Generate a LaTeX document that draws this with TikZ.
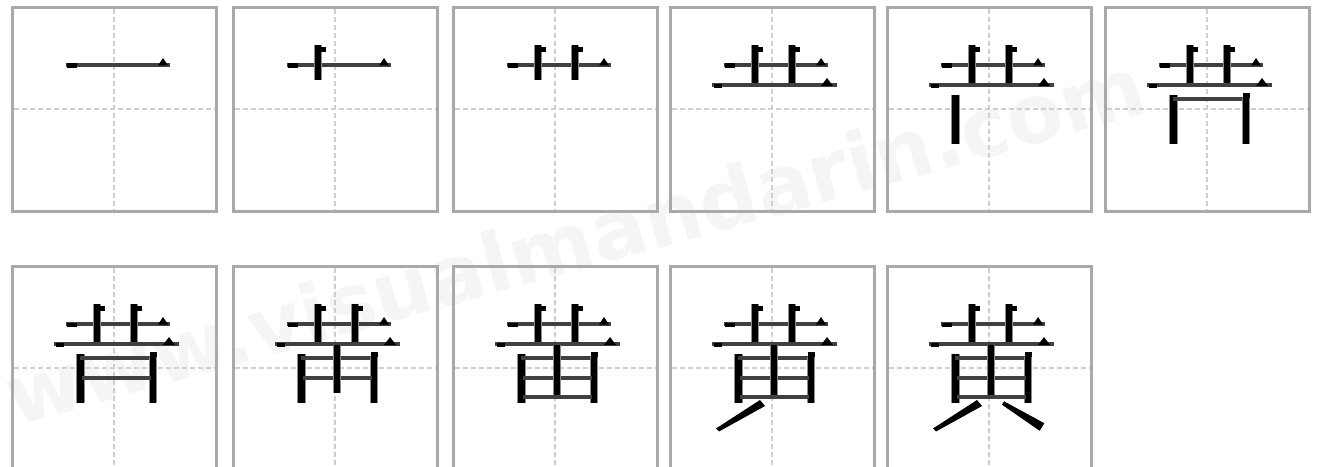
\documentclass[tikz,border=0pt]{standalone}
\usepackage{fontspec}
\newfontfamily\wmfont{DejaVu Sans}
\definecolor{framegray}{HTML}{A9A9A9}
\definecolor{guidegray}{HTML}{CFCFCF}
\definecolor{wmgray}{HTML}{F5F5F5}
\definecolor{hzink}{HTML}{404040}
\tikzset{
  boxframe/.style={draw=framegray, line width=2.3pt},
  guide/.style={draw=guidegray, line width=1.5pt, dash pattern=on 3.75pt off 2.25pt},
  hzstroke/.style={draw=hzink, line width=2.3pt},
  hzthick/.style={draw=hzink, line width=3pt},
  vthalo/.style={draw=black!45, line width=6.4pt},
  vtstroke/.style={draw=black, line width=4.6pt},
  ink/.style={fill=black},
}
% strokes of the character, box-relative pixel coordinates
\newcommand\strkA{\draw[hzstroke] (55,59) -- (159,59);
  \fill[ink] (147,59.5) -- (157,59.5) -- (152,52) -- cycle;
  \fill[ink] (56,57.5) rectangle (66,62);}
\newcommand\strkB[1]{\draw[vthalo] (86,39) -- (86,#1); \draw[vtstroke] (86,39) -- (86,#1);
  \fill[ink] (88,41) rectangle (94,46);}
\newcommand\strkC[1]{\draw[vthalo] (123,39) -- (123,#1); \draw[vtstroke] (123,39) -- (123,#1);
  \fill[ink] (125,41) rectangle (131,46);}
\newcommand\strkD{\draw[hzthick] (43,79) -- (168,79);
  \fill[ink] (152,80) -- (164,80) -- (158,72) -- cycle;
  \fill[ink] (45,78) rectangle (53,82);}
\newcommand\strkE{\draw[vthalo] (69.5,89) -- (69.5,138); \draw[vtstroke] (69.5,89) -- (69.5,138);}
\newcommand\strkF{\draw[hzthick] (69,93) -- (142,93);
  \draw[vthalo] (142,92) -- (142,138); \draw[vtstroke] (142,92) -- (142,138);
  \fill[ink] (139,87) rectangle (146,92);}
\newcommand\strkG{\draw[hzthick] (71,113) -- (140,113);}
\newcommand\strkH[1]{\draw[vthalo] (105,80) -- (105,#1); \draw[vtstroke] (105,80) -- (105,#1);}
\newcommand\strkI{\draw[hzthick] (71,132) -- (140,132);}
\newcommand\strkJ{\fill[ink] (91,135) -- (96,141) -- (50,166.5) -- (47,163.5) -- cycle;}
\newcommand\strkK{\fill[ink] (118,136.3) -- (158.3,158.2) -- (153.7,165.8) -- (116,139.7) -- cycle;}
% one practice box with its strokes
\newcommand\hanbox[3]{\begin{scope}[shift={(#1,#2)}]
  \draw[guide] (103,3) -- (103,204);
  \draw[guide] (3,103) -- (204,103);
  \draw[boxframe] (1.5,1.5) rectangle (205.5,205.5);
  #3
\end{scope}}
\begin{document}
\begin{tikzpicture}[x=0.75pt,y=-0.75pt]
\useasboundingbox (0,0) rectangle (1325,467);
\clip (0,0) rectangle (1325,467);
\fill[white] (0,0) rectangle (1325,467);
\node[text=wmgray, font=\wmfont\bfseries\fontsize{61}{61}\selectfont,
      rotate=15.5, anchor=base east, inner sep=0pt] (wm) at (1150,112) {www.visualmandarin.com};
% row 1
\hanbox{11}{6}{\strkA}
\hanbox{232}{6}{\strkA\strkB{74}}
\hanbox{452}{6}{\strkA\strkB{74}\strkC{74}}
\hanbox{669}{6}{\strkA\strkB{79}\strkC{79}\strkD}
\hanbox{886}{6}{\strkA\strkB{79}\strkC{79}\strkD\strkE}
\hanbox{1104}{6}{\strkA\strkB{79}\strkC{79}\strkD\strkE\strkF}
% row 2
\hanbox{11}{265}{\strkA\strkB{79}\strkC{79}\strkD\strkE\strkF\strkG}
\hanbox{232}{265}{\strkA\strkB{79}\strkC{79}\strkD\strkE\strkF\strkG\strkH{128}}
\hanbox{452}{265}{\strkA\strkB{79}\strkC{79}\strkD\strkE\strkF\strkG\strkH{132}\strkI}
\hanbox{669}{265}{\strkA\strkB{79}\strkC{79}\strkD\strkE\strkF\strkG\strkH{132}\strkI\strkJ}
\hanbox{886}{265}{\strkA\strkB{79}\strkC{79}\strkD\strkE\strkF\strkG\strkH{132}\strkI\strkJ\strkK}
\end{tikzpicture}
\end{document}
